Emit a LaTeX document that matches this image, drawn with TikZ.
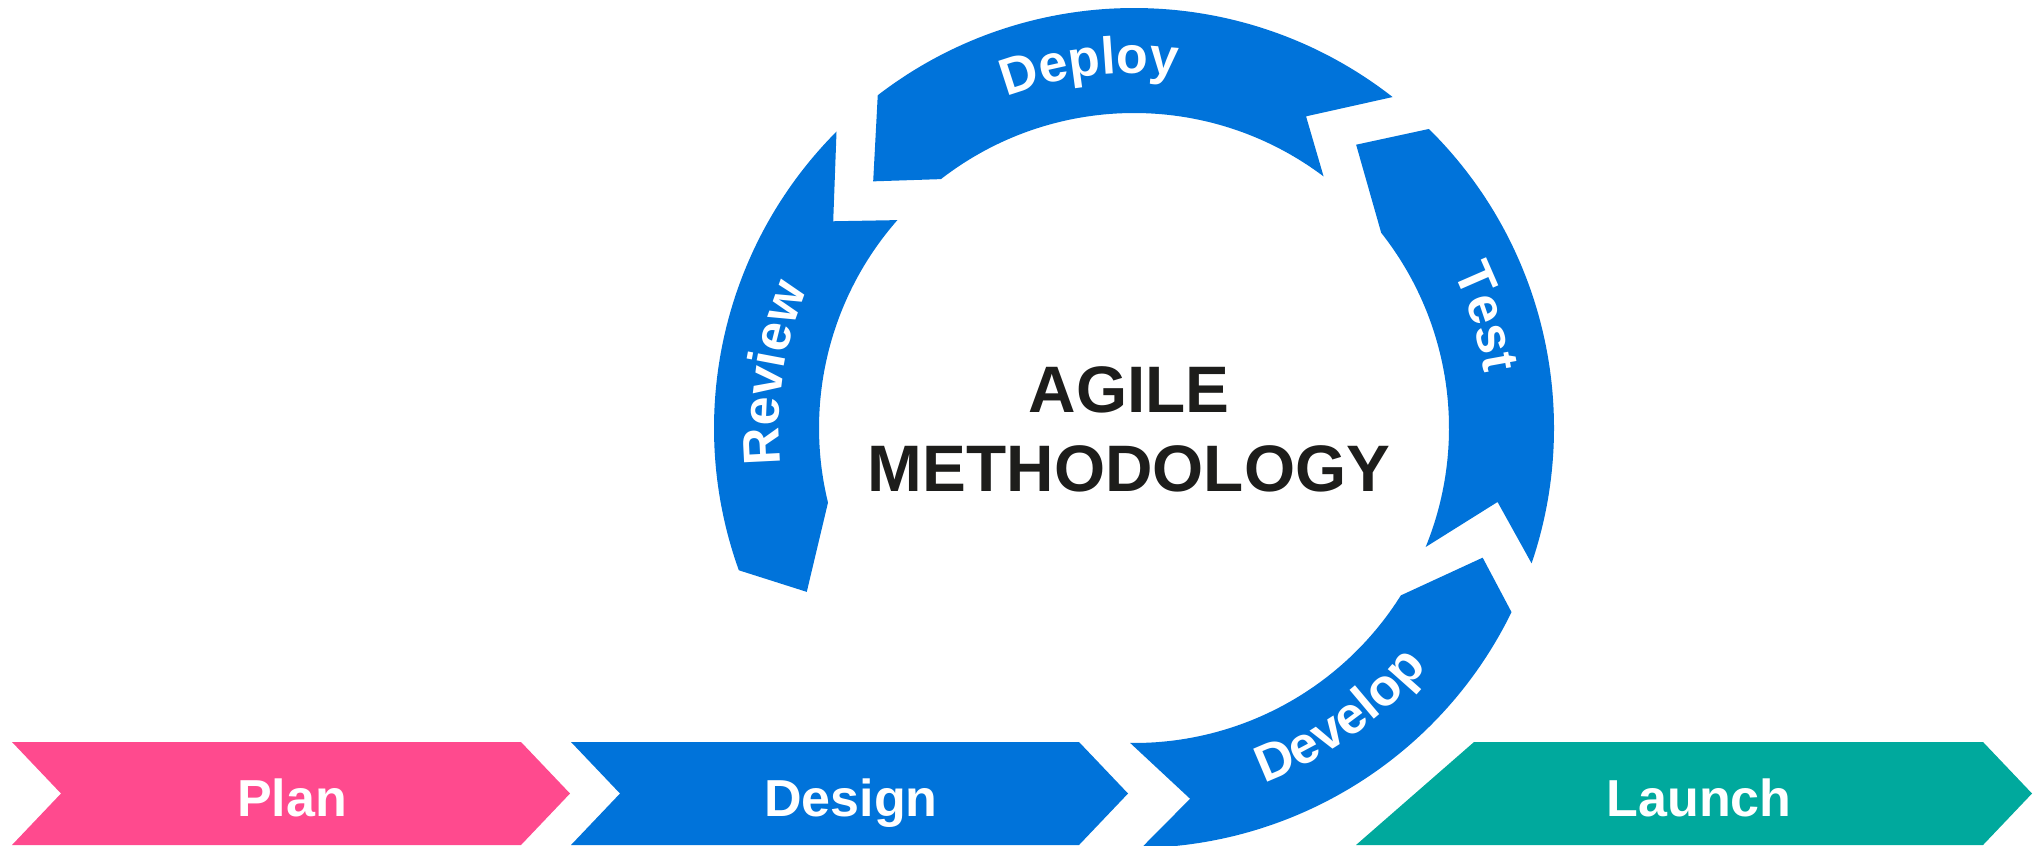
\documentclass[tikz,border=0pt]{standalone}
\usepackage{fontspec}
\setmainfont{Liberation Sans}
\usetikzlibrary{decorations.text,positioning}
\definecolor{ringblue}{HTML}{0073DA}
\definecolor{planpink}{HTML}{FF4A8E}
\definecolor{launchteal}{HTML}{00A99D}
\definecolor{titlegray}{HTML}{1D1D1B}
\newcommand{\arcfont}{\color{white}\bfseries\fontsize{14.8}{16}\selectfont}
\begin{document}
\begin{tikzpicture}
[ringpart/.style={fill=ringblue},%
  steplabel/.style={anchor=base,text=white,font=\bfseries\fontsize{14.8}{16}\selectfont},%
  titletext/.style={anchor=base,text=titlegray,font=\bfseries\fontsize{18.7}{22}\selectfont},%
  arctext/.style={decorate,decoration={text along path,text align=center,text={|\arcfont|#1}}}]
\useasboundingbox (0,0) rectangle (20.33,8.45);
%% pieces of the ring
\begin{scope}[shift={(11.34,4.17)}]
\foreach \oa/\ob/\ha/\hr/\ia/\ib/\na/\nr in {52/127.6/136.6/3.59/127.8/53/61.1/3.56,
    135.1/199.8/206.6/3.66/193.7/138.7/145.5/3.65,
    -18.8/45.4/51.9/3.60/38.3/-22.2/-11.5/3.71,
    -89/-26/-20.4/3.72/-32.1/-90.7/-81.4/3.75} {
  \fill[ringpart] (\oa:4.2) arc[start angle=\oa, end angle=\ob, radius=4.2]
    -- (\ha:\hr) -- (\ia:3.15) arc[start angle=\ia, end angle=\ib, radius=3.15]
    -- (\na:\nr) -- cycle;
}
%% labels on the ring
\path[arctext=Deploy] (117:3.55) arc[start angle=117, end angle=77, radius=3.55];
\path[arctext=Review] (191.4:3.55) arc[start angle=191.4, end angle=151.4, radius=3.55];
\path[arctext=Test] (40:3.55) arc[start angle=40, end angle=-5, radius=3.55];
\path[arctext=Develop] (-74.5:3.78) arc[start angle=-74.5, end angle=-34.5, radius=3.78];
\end{scope}
%% title
\node[titletext] (agile) at (11.29,4.33) {AGILE};
\node[titletext, below=0.79cm of agile.base, anchor=base] (method) {METHODOLOGY};
%% steps along the bottom
\foreach \xl/\xr/\col in {0.12/5.21/planpink, 5.71/10.79/ringblue} {
  \fill[\col] (\xl,1.03) -- (\xr,1.03) -- ++(0.49,-0.515) -- (\xr,0)
    -- (\xl,0) -- ++(0.49,0.515) -- cycle;
}
\fill[launchteal] (14.74,1.03) -- (19.83,1.03) -- (20.32,0.515) -- (19.83,0)
  -- (13.56,0) -- cycle;
\node[steplabel] (plan) at (2.92,0.29) {Plan};
\node[steplabel] (design) at (8.51,0.29) {Design};
\node[steplabel] (launch) at (16.99,0.29) {Launch};
\end{tikzpicture}
\end{document}
